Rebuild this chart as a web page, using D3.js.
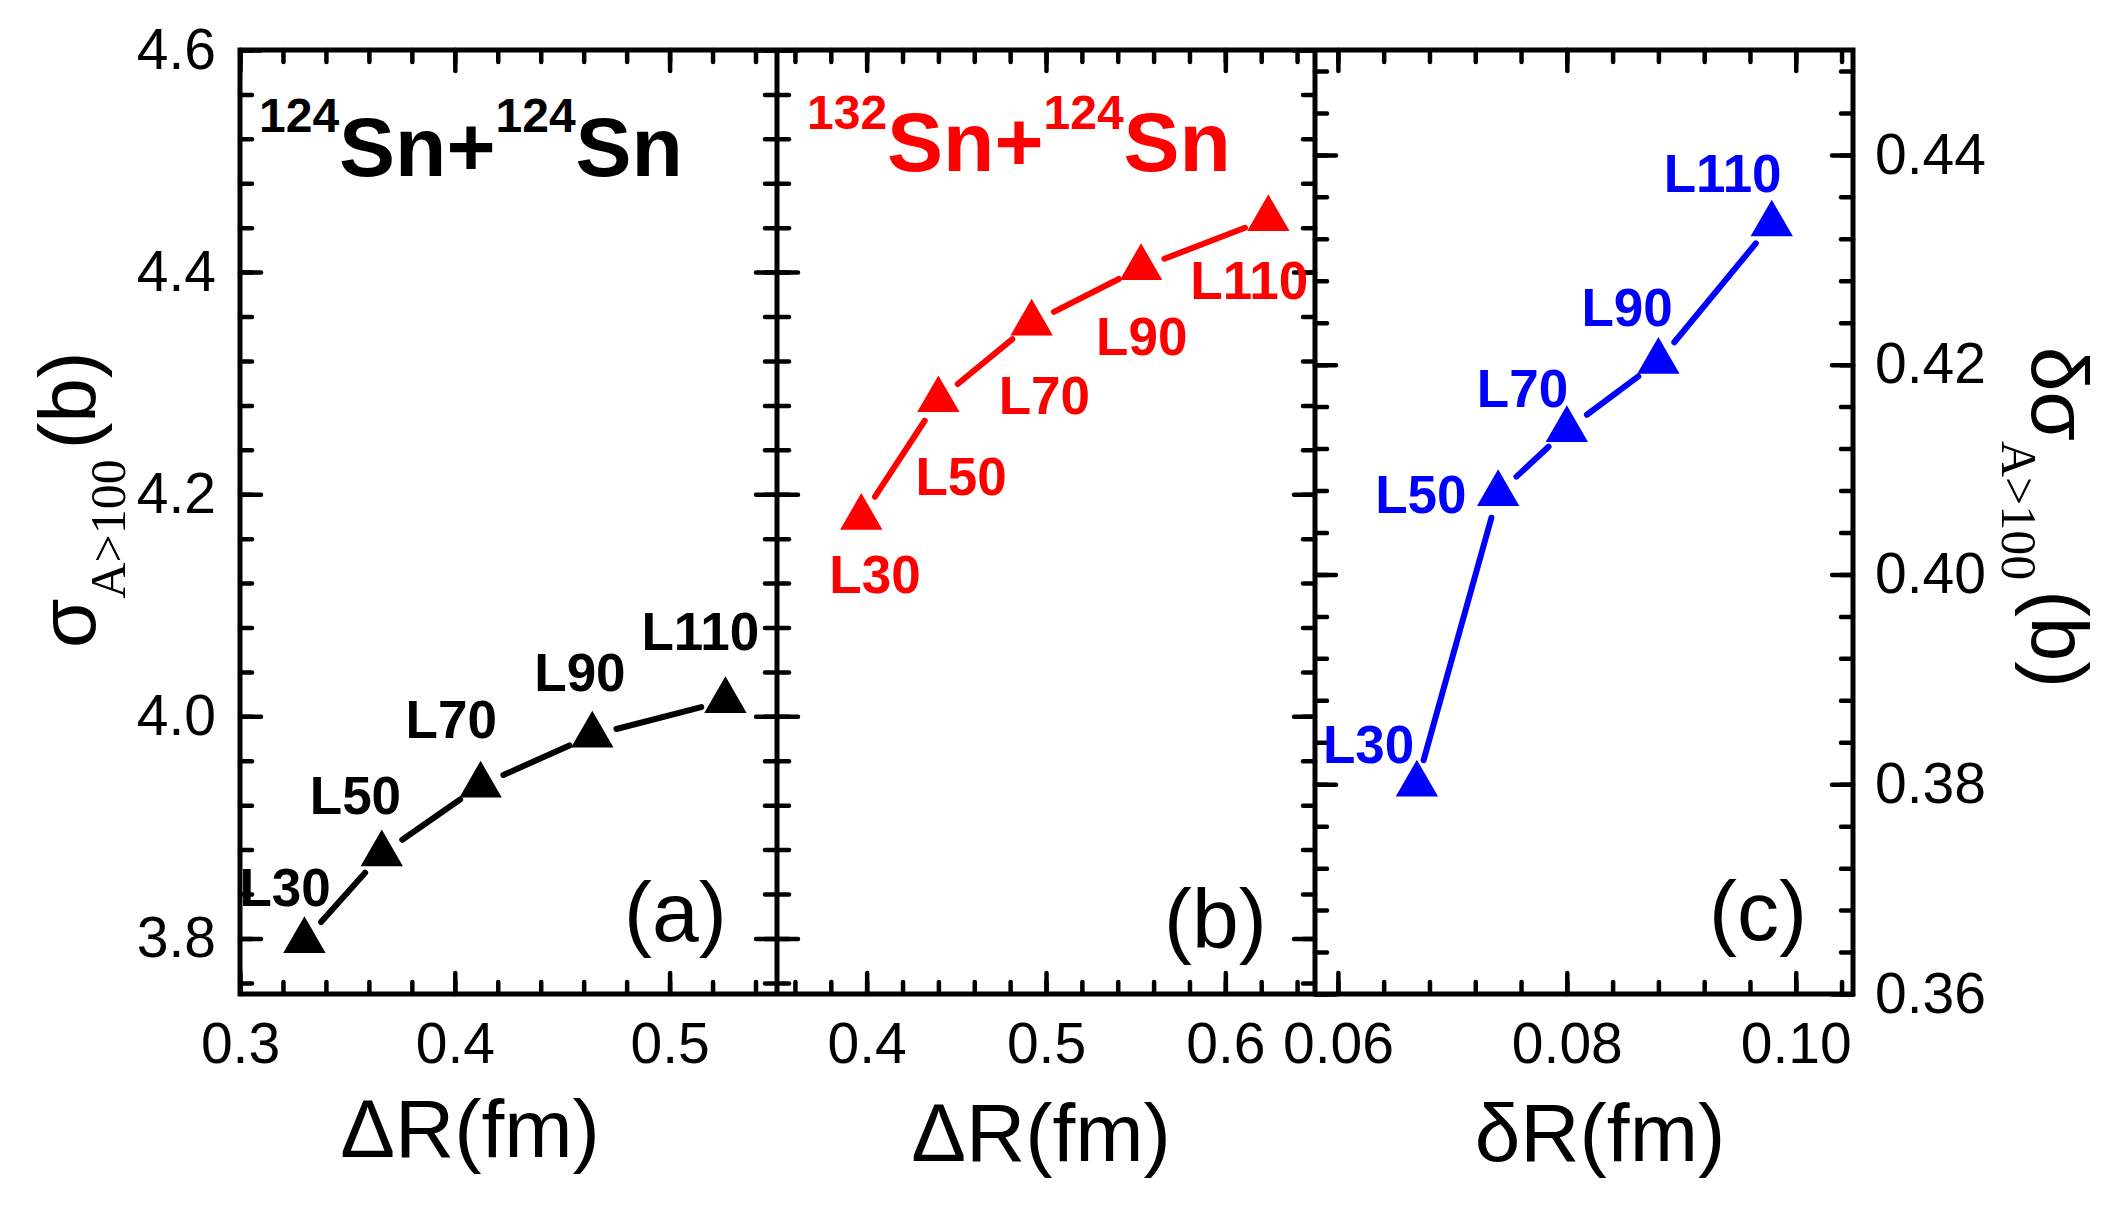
<!DOCTYPE html>
<html><head><meta charset="utf-8">
<script src="https://cdn.jsdelivr.net/npm/d3@7"></script>
<style>body{margin:0;background:#fff;} svg{display:block;}</style>
</head><body>
<svg id="chart" width="2113" height="1208"></svg>
<script>
// ---------- data ----------
const pointLabels = ["L30", "L50", "L70", "L90", "L110"];
const dR124 = [0.330, 0.366, 0.412, 0.464, 0.526];
const sigma124 = [3.798, 3.876, 3.938, 3.983, 4.014];
const dR132 = [0.397, 0.440, 0.492, 0.553, 0.624];
const sigma132 = [4.179, 4.285, 4.354, 4.404, 4.448];
const deltaR = [0.0669, 0.0740, 0.0800, 0.0880, 0.0979];
const deltaSigma = [0.3800, 0.4077, 0.4138, 0.4203, 0.4334];

const xTicksA = [0.3, 0.4, 0.5];
const xTicksB = [0.4, 0.5, 0.6];
const xTicksC = [0.06, 0.08, 0.10];
const yTicksLeft = [3.8, 4.0, 4.2, 4.4, 4.6];
const yTicksRight = [0.36, 0.38, 0.40, 0.42, 0.44];

// ---------- layout (pixel offsets of the point labels, not data) ----------
const labelOffA = [[-65, -35], [-72, -40], [-75, -47], [-58, -44], [-84, -51]];
const labelOffB = [[-32, 75], [-23, 95], [-33, 91], [-45, 87], [-78, 80]];
const labelOffC = [[-94, -21], [-123, 19], [-90, -23], [-77, -36], [-108, -32]];

const FONT = "'Liberation Sans', Arial, Helvetica, sans-serif";
const SERIF = "'Liberation Serif', 'Times New Roman', serif";
const T = 50, B = 994;
const svg = d3.select("#chart");

const xA = d3.scaleLinear([0.3, 0.55], [240, 777]);
const xB = d3.scaleLinear([0.35, 0.65], [777, 1315]);
const xC = d3.scaleLinear([0.058, 0.105], [1315, 1853]);
const yL = d3.scaleLinear([3.75, 4.6], [B, T]);
const yR = d3.scaleLinear([0.36, 0.45], [B, T]);

const rnd = (a, b, s, dp) => d3.range(a, b + s / 2, s).map(v => +v.toFixed(dp));
const xMinorA = rnd(0.30, 0.54, 0.02, 2);
const xMinorB = rnd(0.36, 0.64, 0.02, 2);
const xMinorC = rnd(0.06, 0.104, 0.004, 3);
const yMinorL = rnd(3.76, 4.60, 0.04, 2);
const yMinorR = rnd(0.36, 0.448, 0.004, 3);

const MAJ = 21, MIN = 12;

function drawAxis(gen, transform, values, size, fmt, pad) {
  const g = svg.append("g").attr("transform", transform)
    .call(gen.tickValues(values).tickSize(size).tickPadding(pad || 0).tickFormat(fmt || (() => "")));
  g.select(".domain").remove();
  g.attr("font-size", null).attr("font-family", null);
  g.selectAll(".tick line").attr("stroke", "#000").attr("stroke-width", 4.5).attr("stroke-linecap", "round");
  g.selectAll(".tick text").attr("font-family", FONT).attr("font-size", 57).attr("fill", "#000");
  return g;
}

// x axes (bottom with labels, top mirrored)
[[xA, xTicksA, xMinorA, d3.format(".1f")], [xB, xTicksB, xMinorB, d3.format(".1f")], [xC, xTicksC, xMinorC, d3.format(".2f")]]
  .forEach(([sc, maj, min, fmt]) => {
    drawAxis(d3.axisBottom(sc), `translate(0,${B})`, min, -MIN);
    drawAxis(d3.axisBottom(sc), `translate(0,${B})`, maj, -MAJ, fmt, 29);
    drawAxis(d3.axisTop(sc), `translate(0,${T})`, min, -MIN);
    drawAxis(d3.axisTop(sc), `translate(0,${T})`, maj, -MAJ);
  });

// y axes
const fmtL = d3.format(".1f"), fmtR = d3.format(".2f");
// panel a left (labelled)
drawAxis(d3.axisLeft(yL), `translate(240,0)`, yMinorL, -MIN);
drawAxis(d3.axisLeft(yL), `translate(240,0)`, yTicksLeft, -MAJ, fmtL, 24);
// a|b boundary
drawAxis(d3.axisRight(yL), `translate(777,0)`, yMinorL, -MIN);
drawAxis(d3.axisRight(yL), `translate(777,0)`, yTicksLeft, -MAJ);
drawAxis(d3.axisLeft(yL), `translate(777,0)`, yMinorL, -MIN);
drawAxis(d3.axisLeft(yL), `translate(777,0)`, yTicksLeft, -MAJ);
// b|c boundary
drawAxis(d3.axisRight(yL), `translate(1315,0)`, yMinorL, -MIN);
drawAxis(d3.axisRight(yL), `translate(1315,0)`, yTicksLeft, -MAJ);
drawAxis(d3.axisLeft(yR), `translate(1315,0)`, yMinorR, -MIN);
drawAxis(d3.axisLeft(yR), `translate(1315,0)`, yTicksRight, -MAJ);
// panel c right (labelled)
drawAxis(d3.axisRight(yR), `translate(1853,0)`, yMinorR, -MIN);
drawAxis(d3.axisRight(yR), `translate(1853,0)`, yTicksRight, -MAJ, fmtR, 22);

// frame
svg.append("rect").attr("x", 240).attr("y", T).attr("width", 1853 - 240).attr("height", B - T)
  .attr("fill", "none").attr("stroke", "#000").attr("stroke-width", 5);
[777, 1315].forEach(x => svg.append("line").attr("x1", x).attr("x2", x).attr("y1", T).attr("y2", B)
  .attr("stroke", "#000").attr("stroke-width", 5));

// series
function drawSeries(xs, ys, xs_, ys_, color, offs) {
  const pts = xs.map((v, i) => [xs_(v), ys_(ys[i])]);
  const gap = 25;
  const line = d3.line();
  for (let i = 0; i < pts.length - 1; i++) {
    const [x0, y0] = pts[i], [x1, y1] = pts[i + 1];
    const L = Math.hypot(x1 - x0, y1 - y0), ux = (x1 - x0) / L, uy = (y1 - y0) / L;
    svg.append("path")
      .attr("d", line([[x0 + ux * gap, y0 + uy * gap], [x1 - ux * gap, y1 - uy * gap]]))
      .attr("stroke", color).attr("stroke-width", 6).attr("stroke-linecap", "round").attr("fill", "none");
  }
  svg.append("g").selectAll("path").data(pts).join("path")
    .attr("transform", d => `translate(${d[0]},${d[1]})`)
    .attr("d", d3.symbol(d3.symbolTriangle, 777))
    .attr("fill", color);
  svg.append("g").selectAll("text").data(pts).join("text")
    .attr("x", (d, i) => d[0] + offs[i][0]).attr("y", (d, i) => d[1] + offs[i][1])
    .attr("font-family", FONT).attr("font-weight", "bold").attr("font-size", 53)
    .attr("fill", color).text((d, i) => pointLabels[i]);
}
drawSeries(dR124, sigma124, xA, yL, "#000000", labelOffA);
drawSeries(dR132, sigma132, xB, yL, "#ff0000", labelOffB);
drawSeries(deltaR, deltaSigma, xC, yR, "#0000ff", labelOffC);

// reaction titles
function reaction(x, ySup, yMain, a, b, color) {
  const t = svg.append("text").attr("x", x).attr("font-family", FONT).attr("font-weight", "bold").attr("fill", color);
  t.append("tspan").attr("y", ySup).attr("font-size", 48).text(a);
  t.append("tspan").attr("y", yMain).attr("font-size", 84).text("Sn+");
  t.append("tspan").attr("y", ySup).attr("font-size", 48).text(b);
  t.append("tspan").attr("y", yMain).attr("font-size", 84).text("Sn");
}
reaction(259, 132, 176, "124", "124", "#000");
reaction(807, 129, 171, "132", "124", "#ff0000");

// panel tags
[["(a)", 624, 941], ["(b)", 1164, 948], ["(c)", 1709, 940]].forEach(([s, x, y]) =>
  svg.append("text").attr("x", x).attr("y", y).attr("font-family", FONT).attr("font-size", 84).attr("fill", "#000").text(s));

// x axis titles
[["\u0394R(fm)", 470, 1157], ["\u0394R(fm)", 1041, 1161], ["\u03B4R(fm)", 1600, 1161]].forEach(([s, x, y]) =>
  svg.append("text").attr("x", x).attr("y", y).attr("text-anchor", "middle")
    .attr("font-family", FONT).attr("font-size", 82).attr("fill", "#000").text(s));

// y axis titles
const yl = svg.append("text").attr("transform", "translate(95,648) rotate(-90)").attr("fill", "#000");
yl.append("tspan").attr("font-family", FONT).attr("font-size", 80).text("\u03C3");
yl.append("tspan").attr("font-family", SERIF).attr("font-size", 50).attr("dy", 30).text("A>100");
yl.append("tspan").attr("font-family", FONT).attr("font-size", 80).attr("dy", -30).attr("dx", 10).text("(b)");

const yr = svg.append("text").attr("transform", "translate(2032,347) rotate(90)").attr("fill", "#000");
yr.append("tspan").attr("font-family", FONT).attr("font-size", 80).text("\u03B4\u03C3");
yr.append("tspan").attr("font-family", SERIF).attr("font-size", 50).attr("dy", 30).text("A>100");
yr.append("tspan").attr("font-family", FONT).attr("font-size", 80).attr("dy", -30).attr("dx", 10).text("(b)");
</script>
</body></html>
